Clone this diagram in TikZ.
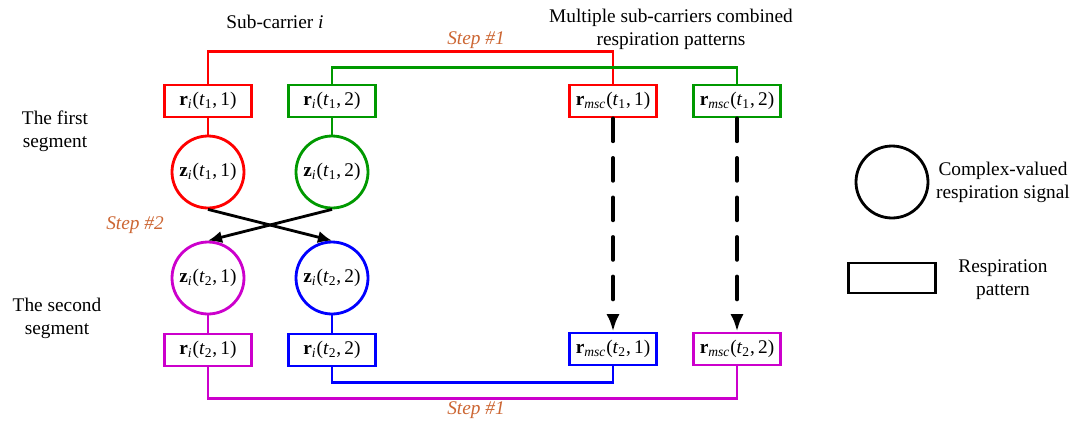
\documentclass[tikz,border=0pt]{standalone}
\usepackage{fontspec}
\setmainfont{Liberation Serif}
\usepackage{amsmath}
\usetikzlibrary{arrows, arrows.meta, positioning}
\definecolor{sigred}{RGB}{255, 0, 0}
\definecolor{siggreen}{RGB}{0, 153, 0}
\definecolor{sigblue}{RGB}{0, 0, 255}
\definecolor{sigmagenta}{RGB}{204, 0, 204}
\definecolor{steporange}{RGB}{204, 102, 51}
\newcommand{\rvec}[3]{\textbf{r}$_{\textit{#1}}$(\textit{t}$_{\text{#2}}$,\,#3)}
\newcommand{\zvec}[3]{\textbf{z}$_{\textit{#1}}$(\textit{t}$_{\text{#2}}$,\,#3)}

\begin{document}
\begin{tikzpicture}[x=0.02cm, y=-0.02cm, font=\fontsize{11}{13}\selectfont, line width=1.6pt,
    patbox/.style={draw, minimum width=1.74cm, minimum height=0.64cm, inner sep=1pt},
    sigcirc/.style={draw, circle, minimum size=1.44cm, inner sep=0pt},
    steplabel/.style={text=steporange, font=\fontsize{11}{13}\selectfont\itshape},
    dasharrow/.style={-{Latex[length=10pt, width=7.5pt]}, line width=2.2pt, line cap=round, dash pattern=on 13pt off 9.5pt}]
    \useasboundingbox (0,0) rectangle (1076,430);
    % titles
    \node (subtitle) at (275,22) {Sub-carrier \textit{i}};
    \node[align=center] (msctitle) at (671,29) {Multiple sub-carriers combined\\respiration patterns};
    \node[align=center] (seg1) at (55,131) {The first\\segment};
    \node[align=center] (seg2) at (57,318) {The second\\segment};
    \node[steplabel] (step1top) at (476,40) {Step \#1};
    \node[steplabel] (step1bot) at (476,410) {Step \#1};
    \node[steplabel] (step2) at (135,225) {Step \#2};
    % sub-carrier i
    \node[patbox, draw=sigred] (r11) at (208,101) {\rvec{i}{1}{1}};
    \node[patbox, draw=siggreen] (r12) at (332,101) {\rvec{i}{1}{2}};
    \node[sigcirc, draw=sigred] (z11) at (208,172) {\zvec{i}{1}{1}};
    \node[sigcirc, draw=siggreen] (z12) at (332,172) {\zvec{i}{1}{2}};
    \node[sigcirc, draw=sigmagenta] (z21) at (208,278) {\zvec{i}{2}{1}};
    \node[sigcirc, draw=sigblue] (z22) at (332,278) {\zvec{i}{2}{2}};
    \node[patbox, draw=sigmagenta] (r21) at (208,350) {\rvec{i}{2}{1}};
    \node[patbox, draw=sigblue] (r22) at (332,350) {\rvec{i}{2}{2}};
    % multiple sub-carriers
    \node[patbox, draw=sigred] (m11) at (613,101) {\rvec{msc}{1}{1}};
    \node[patbox, draw=siggreen] (m12) at (737,101) {\rvec{msc}{1}{2}};
    \node[patbox, draw=sigblue] (m21) at (613,349) {\rvec{msc}{2}{1}};
    \node[patbox, draw=sigmagenta] (m22) at (737,349) {\rvec{msc}{2}{2}};
    % legend
    \node[sigcirc] (lgcirc) at (892,182) {};
    \node[align=center] (lgcirctext) at (1003,182) {Complex-valued\\respiration signal};
    \node[patbox, minimum height=0.6cm] (lgbox) at (892,278) {};
    \node[align=center] (lgboxtext) at (1003,280) {Respiration\\pattern};
    % connectors
    \draw[sigred] (r11.north) -- ++(0,-32) -| (m11.north);
    \draw[siggreen] (r12.north) -- ++(0,-16) -| (m12.north);
    \draw[sigred] (r11) -- (z11);
    \draw[siggreen] (r12) -- (z12);
    \draw[-{Latex[length=8pt, width=7pt]}] (z11.south) -- (z22.north);
    \draw[-{Latex[length=8pt, width=7pt]}] (z12.south) -- (z21.north);
    \draw[sigmagenta] (z21) -- (r21);
    \draw[sigblue] (z22) -- (r22);
    \draw[sigblue] (r22.south) -- ++(0,15) -| (m21.south);
    \draw[sigmagenta] (r21.south) -- ++(0,31) -| (m22.south);
    \draw[dasharrow] (m11) -- (m21);
    \draw[dasharrow] (m12) -- (m22);
\end{tikzpicture}
\end{document}
